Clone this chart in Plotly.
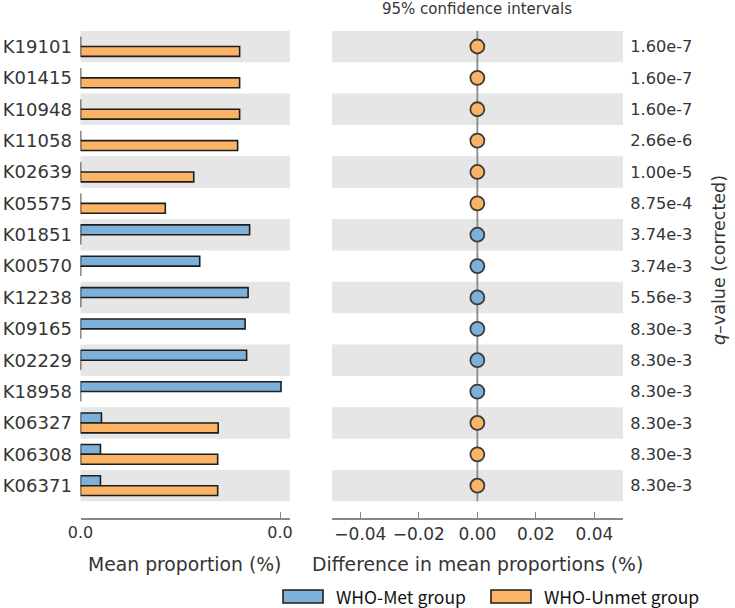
import plotly.graph_objects as go

# ---------------- data ----------------
features = ["K19101", "K01415", "K10948", "K11058", "K02639", "K05575", "K01851",
            "K00570", "K12238", "K09165", "K02229", "K18958", "K06327", "K06308", "K06371"]
met_mean = [0.0, 0.0, 0.0, 0.0, 0.0, 0.0, 0.00339, 0.00239, 0.00336, 0.00330,
            0.00333, 0.00402, 0.00042, 0.00040, 0.00040]
unmet_mean = [0.00319, 0.00319, 0.00319, 0.00315, 0.00227, 0.00170, 0.0, 0.0, 0.0,
              0.0, 0.0, 0.0, 0.00276, 0.00275, 0.00275]
diff_mean = [0.0] * 15
higher_group = ["Unmet"] * 6 + ["Met"] * 6 + ["Unmet"] * 3
q_values = ["1.60e-7", "1.60e-7", "1.60e-7", "2.66e-6", "1.00e-5", "8.75e-4", "3.74e-3",
            "3.74e-3", "5.56e-3", "8.30e-3", "8.30e-3", "8.30e-3", "8.30e-3", "8.30e-3", "8.30e-3"]
left_ticks = [0.0, 0.004]
left_ticktext = ["0.0", "0.0"]
right_ticks = [-0.04, -0.02, 0.0, 0.02, 0.04]
right_ticktext = ["\u22120.04", "\u22120.02", "0.00", "0.02", "0.04"]

# ---------------- style ----------------
W, H = 735, 608
BLUE = "#7EB1DA"
ORANGE = "#FBB466"
EDGE = "#1e1e1e"
BAND = "#E6E6E6"
TXT = "#353535"
FONT = "DejaVu Sans"
rows = list(range(len(features)))

def px_x(x):
    return x / W

def px_y(y):
    return 1 - y / H

fig = go.Figure()

fig.add_trace(go.Bar(y=rows, x=met_mean, orientation="h", name="WHO-Met group",
                     marker=dict(color=BLUE, line=dict(color=EDGE, width=1.6)),
                     xaxis="x", yaxis="y", showlegend=False, hoverinfo="x+name"))
fig.add_trace(go.Bar(y=rows, x=unmet_mean, orientation="h", name="WHO-Unmet group",
                     marker=dict(color=ORANGE, line=dict(color=EDGE, width=1.6)),
                     xaxis="x", yaxis="y", showlegend=False, hoverinfo="x+name"))

dot_colors = [BLUE if g == "Met" else ORANGE for g in higher_group]
fig.add_trace(go.Scatter(x=diff_mean, y=rows, mode="markers",
                         marker=dict(size=14, color=dot_colors,
                                     line=dict(color="#3b3b3b", width=1.8)),
                         xaxis="x2", yaxis="y2", showlegend=False))

# background bands
shapes = []
for i in rows:
    if i % 2 == 0:
        for xr in ("x domain", "x2 domain"):
            shapes.append(dict(type="rect", xref=xr, yref="y", x0=0, x1=1,
                               y0=i - 0.5, y1=i + 0.5, fillcolor=BAND,
                               line=dict(width=0), layer="below"))
# zero line in right panel
shapes.append(dict(type="line", xref="x2", yref="y2", x0=0, x1=0, y0=-0.5, y1=14.5,
                   line=dict(color="#8a8a8a", width=1.8), layer="below"))

# legend drawn as shapes + text
shapes.append(dict(type="rect", xref="paper", yref="paper",
                   x0=px_x(283), x1=px_x(323), y0=px_y(603), y1=px_y(590),
                   fillcolor=BLUE, line=dict(color=EDGE, width=1.6)))
shapes.append(dict(type="rect", xref="paper", yref="paper",
                   x0=px_x(491), x1=px_x(531), y0=px_y(603), y1=px_y(590),
                   fillcolor=ORANGE, line=dict(color=EDGE, width=1.6)))

ann = [
    dict(text="95% confidence intervals", x=px_x(477), y=px_y(9), xanchor="center",
         yanchor="middle", font=dict(size=15, color=TXT, family=FONT)),
    dict(text="Mean proportion (%)", x=px_x(184.5), y=px_y(564), xanchor="center",
         yanchor="middle", font=dict(size=18.8, color=TXT, family=FONT)),
    dict(text="Difference in mean proportions (%)", x=px_x(477), y=px_y(564),
         xanchor="center", yanchor="middle", font=dict(size=18.8, color=TXT, family=FONT)),
    dict(text="<i>q</i>\u2013value (corrected)", x=px_x(719), y=px_y(260), xanchor="center",
         yanchor="middle", textangle=-90, font=dict(size=17.5, color=TXT, family=FONT)),
    dict(text="WHO-Met group", x=px_x(334), y=px_y(596), xanchor="left", yanchor="middle",
         font=dict(size=17.5, color="#111", family="Noto Sans CJK KR")),
    dict(text="WHO-Unmet group", x=px_x(542), y=px_y(596), xanchor="left", yanchor="middle",
         font=dict(size=17.5, color="#111", family="Noto Sans CJK KR")),
]
for a in ann:
    a.update(xref="paper", yref="paper", showarrow=False)

ydom = [px_y(517.5), px_y(30.8)]
yrange = [15.014, -0.5]

fig.update_layout(
    width=W, height=H, margin=dict(l=0, r=0, t=0, b=0),
    paper_bgcolor="white", plot_bgcolor="white",
    barmode="group", bargap=0.37, bargroupgap=0,
    font=dict(family=FONT, color=TXT),
    shapes=shapes, annotations=ann,
    xaxis=dict(domain=[px_x(80.5), px_x(290)], range=[0, 0.0042], tickvals=left_ticks,
               ticktext=left_ticktext, ticks="inside", ticklen=6, tickwidth=1.3,
               tickcolor="#888", showline=True, linecolor="#888", linewidth=1.5,
               showgrid=False, zeroline=False, anchor="y", automargin=False,
               tickfont=dict(size=16, color=TXT)),
    yaxis=dict(domain=ydom, range=yrange, tickvals=rows, ticktext=features,
               ticks="outside", ticklen=4, tickcolor="rgba(0,0,0,0)", showline=False,
               showgrid=False, zeroline=False, anchor="x", automargin=False,
               tickfont=dict(size=18, color=TXT)),
    xaxis2=dict(domain=[px_x(332), px_x(623)], range=[-0.0497, 0.0498],
                tickvals=right_ticks, ticktext=right_ticktext, ticks="inside", ticklen=6,
                tickwidth=1.3, tickcolor="#888", showline=True, linecolor="#888",
                linewidth=1.5, showgrid=False, zeroline=False, anchor="y2",
                automargin=False, tickfont=dict(size=17, color=TXT)),
    yaxis2=dict(domain=ydom, range=yrange, tickvals=rows, ticktext=q_values, side="right",
                ticks="outside", ticklen=3, tickcolor="rgba(0,0,0,0)", showline=False,
                showgrid=False, zeroline=False, anchor="x2", automargin=False,
                tickfont=dict(size=16.2, color=TXT)),
)

fig.write_html("out.html")
